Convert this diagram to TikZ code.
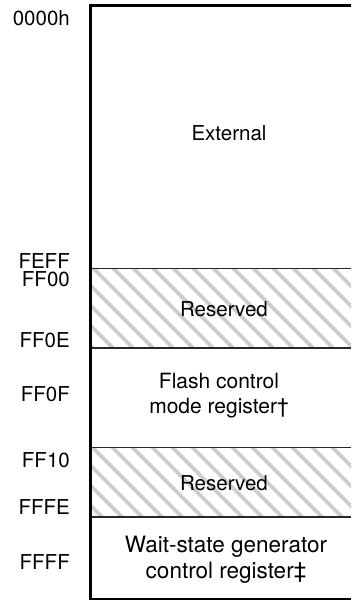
\documentclass[tikz,border=0pt]{standalone}
\usepackage{fontspec}
\setmainfont{TeX Gyre Heros}
\definecolor{hatchgray}{RGB}{205,205,205}
\definecolor{sepgray}{RGB}{40,40,40}
\begin{document}
\begin{tikzpicture}[x=1pt,y=-1pt,
  lbl/.style={anchor=base east, inner sep=0pt, font=\fontsize{20.5}{25}\selectfont},
  txt/.style={anchor=base, align=center, inner sep=0pt, font=\fontsize{20.5}{25}\selectfont},
  bigtxt/.style={txt, font=\fontsize{22.5}{25.5}\selectfont},
  sepline/.style={line width=1.2pt, sepgray},
  hatchline/.style={line width=3.6pt, hatchgray},
  frame/.style={line width=3pt, black}]
\useasboundingbox (0,0) rectangle (351,601);
% hatching of the reserved regions
\begin{scope}
  \clip (90,268.5) rectangle (351,348);
  \foreach \c in {-455,-435,...,125} {
    \draw[hatchline] (\c+250,250) -- (\c+620,620);
  }
\end{scope}
\begin{scope}
  \clip (90,447.5) rectangle (351,517);
  \foreach \c in {-455,-435,...,125} {
    \draw[hatchline] (\c+250,250) -- (\c+620,620);
  }
\end{scope}
% separators
\coordinate (s1l) at (90,268.5); \coordinate (s1r) at (351,268.5);
\coordinate (s2l) at (90,348);   \coordinate (s2r) at (351,348);
\coordinate (s3l) at (90,447.5); \coordinate (s3r) at (351,447.5);
\coordinate (s4l) at (90,517);   \coordinate (s4r) at (351,517);
\coordinate (bl) at (90,598.8);  \coordinate (br) at (351,598.8);
\coordinate (tl) at (88.5,5.5);  \coordinate (tr) at (351,5.5);
\coordinate (lt) at (90,4);      \coordinate (lb) at (90,600);
\draw[sepline] (s1l) -- (s1r);
\draw[sepline] (s2l) -- (s2r);
\draw[sepline] (s3l) -- (s3r);
\draw[sepline] (s4l) -- (s4r);
\draw[line width=1.5pt] (bl) -- (br);
\draw[frame] (tl) -- (tr);
\draw[frame] (lt) -- (lb);
% address labels
\node[lbl] (a0000) at (70,25.7) {0000h};
\node[lbl] (afeff) at (70,268.7) {FEFF};
\node[lbl] (aff00) at (70,286.2) {FF00};
\node[lbl] (aff0e) at (70,347.7) {FF0E};
\node[lbl] (aff0f) at (70,401.2) {FF0F};
\node[lbl] (aff10) at (70,467.7) {FF10};
\node[lbl] (afffe) at (70,514.7) {FFFE};
\node[lbl] (affff) at (70,569.7) {FFFF};
% region texts (base anchor = baseline of the last line)
\node[txt] (ext) at (229,140.5) {External};
\node[txt] (res1) at (224,316) {Reserved};
\node[txt, font=\fontsize{21}{25}\selectfont] (flash) at (219,413) {Flash control\\mode register†};
\node[txt] (res2) at (224,490) {Reserved};
\node[bigtxt] (wait) at (226,578) {Wait-state generator\\control register‡};
\end{tikzpicture}
\end{document}
